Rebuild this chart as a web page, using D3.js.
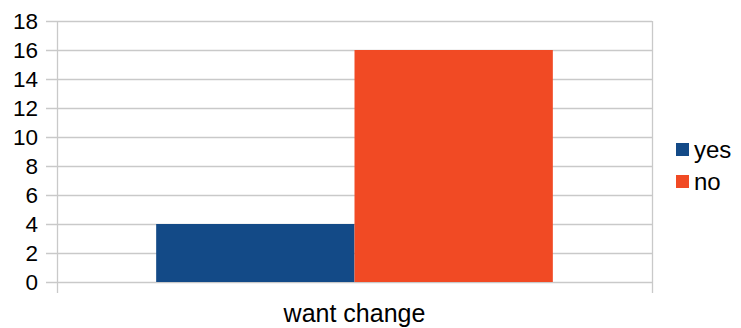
<!DOCTYPE html>
<html>
<head>
<meta charset="utf-8">
<script src="https://cdn.jsdelivr.net/npm/d3@7"></script>
<style>
  html, body { margin: 0; padding: 0; background: #fff; }
  svg { display: block; font-family: "Liberation Sans", Arial, sans-serif; }
</style>
</head>
<body>
<svg id="chart" width="741" height="328"></svg>
<script>
// Chart data
const categories = ["want change"];
const seriesNames = ["yes", "no"];
const yesValues = [4];
const noValues = [16];
const yTicks = [0, 2, 4, 6, 8, 10, 12, 14, 16, 18];
const seriesColors = ["#134a87", "#f14a24"];

const svg = d3.select("#chart");
const margin = { left: 57, right: 89, top: 21, bottom: 46 };
const width = 741, height = 328;
const plotW = width - margin.left - margin.right;
const plotH = height - margin.top - margin.bottom;

const g = svg.append("g").attr("transform", `translate(${margin.left},${margin.top})`);

const y = d3.scaleLinear().domain([0, 18]).range([plotH, 0]);
const x0 = d3.scaleBand().domain(categories).range([0, plotW]).paddingInner(0).paddingOuter(0.25);
const x1 = d3.scaleBand().domain(seriesNames).range([0, x0.bandwidth()]).padding(0);

const gridColor = "#c9c9c9";

// Horizontal gridlines with left tick stubs
g.append("g")
  .selectAll("line")
  .data(yTicks)
  .join("line")
  .attr("x1", -11)
  .attr("x2", plotW)
  .attr("y1", d => Math.round(y(d)) + 0.5)
  .attr("y2", d => Math.round(y(d)) + 0.5)
  .attr("stroke", gridColor)
  .attr("stroke-width", 1.3);

// Bars
const rows = categories.map((c, i) => ({ cat: c, values: [yesValues[i], noValues[i]] }));
g.selectAll("g.cat")
  .data(rows)
  .join("g")
  .attr("class", "cat")
  .attr("transform", d => `translate(${x0(d.cat)},0)`)
  .selectAll("rect")
  .data(d => d.values.map((v, j) => ({ name: seriesNames[j], v, color: seriesColors[j] })))
  .join("rect")
  .attr("x", d => x1(d.name))
  .attr("width", x1.bandwidth())
  .attr("y", d => y(d.v))
  .attr("height", d => plotH - y(d.v))
  .attr("fill", d => d.color);

// Vertical axis lines (left axis and right frame), extending below the baseline
[0, plotW].forEach(xx => {
  g.append("line")
    .attr("x1", xx + 0.5).attr("x2", xx + 0.5)
    .attr("y1", 0).attr("y2", plotH + 11)
    .attr("stroke", gridColor)
    .attr("stroke-width", 1.3);
});

// Y tick labels
const yAxis = d3.axisLeft(y).tickValues(yTicks).tickSize(0).tickPadding(19);
const ya = g.append("g").call(yAxis);
ya.select(".domain").remove();
ya.selectAll("text")
  .attr("font-size", 22.5)
  .attr("fill", "#000")
  .attr("font-family", "Liberation Sans, Arial, sans-serif");

// Category label
const xAxis = d3.axisBottom(x0).tickSize(0).tickPadding(22);
const xa = g.append("g").attr("transform", `translate(0,${plotH})`).call(xAxis);
xa.select(".domain").remove();
xa.selectAll("text")
  .attr("font-size", 25)
  .attr("fill", "#000")
  .attr("font-family", "Liberation Sans, Arial, sans-serif");

// Legend
const legend = svg.append("g").attr("transform", "translate(676,143)");
const items = legend.selectAll("g")
  .data(seriesNames)
  .join("g")
  .attr("transform", (d, i) => `translate(0,${i * 32})`);
items.append("rect")
  .attr("width", 13).attr("height", 13)
  .attr("fill", (d, i) => seriesColors[i]);
items.append("text")
  .attr("x", 18).attr("y", 7)
  .attr("dy", "0.35em")
  .attr("font-size", 24)
  .attr("fill", "#000")
  .text(d => d);
</script>
</body>
</html>
